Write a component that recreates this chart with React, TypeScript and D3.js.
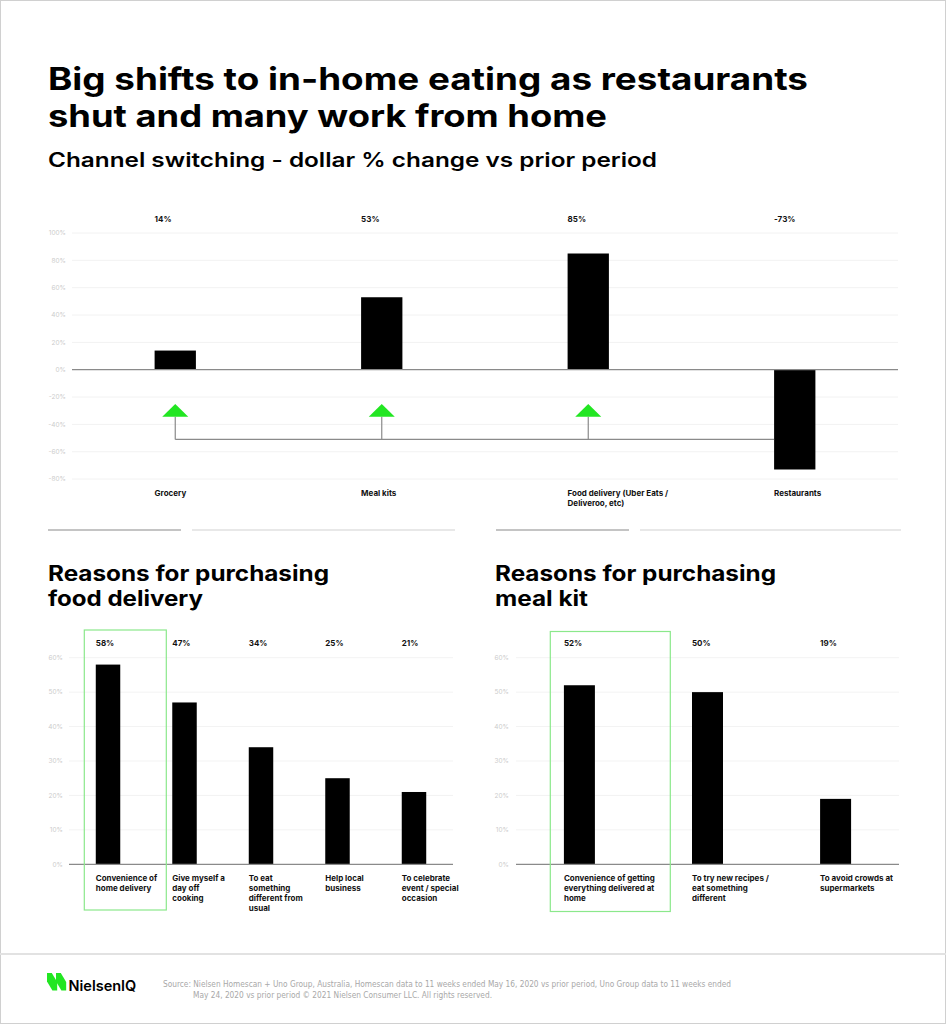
import React, { useEffect } from "react";
import * as d3 from "d3";

// ---------- DATA ----------
const channelLabels: string[][] = [
  ["Grocery"],
  ["Meal kits"],
  ["Food delivery (Uber Eats /", "Deliveroo, etc)"],
  ["Restaurants"],
];
const channelValues: number[] = [14, 53, 85, -73];
const channelTicks: number[] = [100, 80, 60, 40, 20, 0, -20, -40, -60, -80];
// annotation (arrows from restaurants to the growing channels), in axis units
const arrowFrom: number = 3;
const arrowTo: number[] = [0, 1, 2];
const arrowApex = -25;
const arrowBase = -34.5;
const arrowLink = -51;

const deliveryLabels: string[][] = [
  ["Convenience of", "home delivery"],
  ["Give myself a", "day off", "cooking"],
  ["To eat", "something", "different from", "usual"],
  ["Help local", "business"],
  ["To celebrate", "event / special", "occasion"],
];
const deliveryValues: number[] = [58, 47, 34, 25, 21];

const mealKitLabels: string[][] = [
  ["Convenience of getting", "everything delivered at", "home"],
  ["To try new recipes /", "eat something", "different"],
  ["To avoid crowds at", "supermarkets"],
];
const mealKitValues: number[] = [52, 50, 19];
const reasonTicks: number[] = [0, 10, 20, 30, 40, 50, 60];

const titleLines: string[] = [
  "Big shifts to in-home eating as restaurants",
  "shut and many work from home",
];
const subtitle = "Channel switching - dollar % change vs prior period";
const deliveryHeading: string[] = ["Reasons for purchasing", "food delivery"];
const mealKitHeading: string[] = ["Reasons for purchasing", "meal kit"];

const sourceLines: string[] = [
  "Source: Nielsen Homescan + Uno Group, Australia, Homescan data to 11 weeks ended May 16, 2020 vs prior period, Uno Group data to 11 weeks ended",
  "May 24, 2020 vs prior period © 2021 Nielsen Consumer LLC. All rights reserved.",
];

const FONT = "Inter, 'Noto Sans', sans-serif";
const GREEN = "#22e622";
const BOX_GREEN = "#8be88b";

function ReasonChart(props: {
  labels: string[][];
  values: number[];
  x0: number;
  x1: number;
  labelRight: number;
  paddingInner: number;
  paddingOuter: number;
  box: { x: number; y: number; w: number; h: number };
}) {
  const { labels, values, x0, x1, labelRight, paddingInner, paddingOuter, box } = props;
  const y = d3.scaleLinear().domain([0, 60]).range([864.3, 657.7]);
  const x = d3
    .scaleBand<number>()
    .domain(values.map((_, i) => i))
    .range([x0, x1])
    .paddingInner(paddingInner)
    .paddingOuter(paddingOuter);
  return (
    <g>
      {reasonTicks.map((t) => (
        <g key={t}>
          {t !== 0 && (
            <line x1={x0} x2={x1} y1={y(t)} y2={y(t)} stroke="#f3f3f3" strokeWidth={1} />
          )}
          <text
            x={labelRight}
            y={y(t)}
            dy="0.35em"
            textAnchor="end"
            fontSize={6.5}
            fill="#cccccc"
            fontFamily={FONT}
          >
            {t}%
          </text>
        </g>
      ))}
      {values.map((v, i) => (
        <g key={i}>
          <rect
            x={x(i)!}
            y={y(v)}
            width={x.bandwidth()}
            height={y(0) - y(v)}
            fill="#000"
          />
          <text
            x={x(i)!}
            y={642.7}
            dy="0.35em"
            fontSize={8}
            fontWeight={700}
            fill="#111"
            fontFamily={FONT}
          >
            {v}%
          </text>
          {labels[i].map((l, j) => (
            <text
              key={j}
              x={x(i)!}
              y={877.7 + j * 10}
              dy="0.35em"
              fontSize={8}
              fontWeight={700}
              fill="#111"
              fontFamily={FONT}
            >
              {l}
            </text>
          ))}
        </g>
      ))}
      <line x1={x0} x2={x1} y1={y(0)} y2={y(0)} stroke="#8a8a8a" strokeWidth={1.2} />
      <rect
        x={box.x}
        y={box.y}
        width={box.w}
        height={box.h}
        fill="none"
        stroke={BOX_GREEN}
        strokeWidth={1.2}
      />
    </g>
  );
}

export default function App() {
  useEffect(() => {
    document.body.style.margin = "0";
  }, []);

  // top chart scales
  const yTop = d3.scaleLinear().domain([0, 100]).range([369.7, 233]);
  const xTop = d3
    .scaleBand<number>()
    .domain(channelValues.map((_, i) => i))
    .range([72, 898])
    .paddingInner(0.8)
    .paddingOuter(0.4);
  const cx = (i: number) => xTop(i)! + xTop.bandwidth() / 2;

  const logoShape = (x: number) =>
    `M${x},973 L${x + 4.8},973 L${x + 10.2},982 L${x + 10.2},990.5 L${x + 5.4},990.5 L${x},981.5 Z`;

  const stretched = (
    s: string,
    x: number,
    y: number,
    size: number,
    weight: number,
    len: number
  ) => (
    <text
      x={x}
      y={y}
      fontSize={size}
      fontWeight={weight}
      fill="#000"
      fontFamily={FONT}
      textLength={len}
      lengthAdjust="spacingAndGlyphs"
    >
      {s}
    </text>
  );

  return (
    <svg
      width={946}
      height={1024}
      style={{ display: "block", position: "absolute", left: 0, top: 0 }}
    >
      <rect x={0.5} y={0.5} width={945} height={1023} fill="#fff" stroke="#d0d0d0" strokeWidth={1} />

      {/* titles */}
      {stretched(titleLines[0], 48, 90, 31, 700, 760)}
      {stretched(titleLines[1], 48, 127, 31, 700, 559)}
      {stretched(subtitle, 48, 167, 20, 600, 609)}

      {/* top chart */}
      <g>
        {channelTicks.map((t) => (
          <g key={t}>
            {t !== 0 && (
              <line x1={72} x2={898} y1={yTop(t)} y2={yTop(t)} stroke="#f2f2f2" strokeWidth={1} />
            )}
            <text
              x={66}
              y={yTop(t)}
              dy="0.35em"
              textAnchor="end"
              fontSize={6.5}
              fill="#cccccc"
              fontFamily={FONT}
            >
              {t}%
            </text>
          </g>
        ))}
        {channelValues.map((v, i) => (
          <g key={i}>
            <rect
              x={xTop(i)!}
              y={yTop(Math.max(0, v))}
              width={xTop.bandwidth()}
              height={Math.abs(yTop(v) - yTop(0))}
              fill="#000"
            />
            <text
              x={xTop(i)!}
              y={219}
              dy="0.35em"
              fontSize={8}
              fontWeight={700}
              fill="#111"
              fontFamily={FONT}
            >
              {v}%
            </text>
            {channelLabels[i].map((l, j) => (
              <text
                key={j}
                x={xTop(i)!}
                y={493.3 + j * 10}
                dy="0.35em"
                fontSize={8}
                fontWeight={700}
                fill="#111"
                fontFamily={FONT}
              >
                {l}
              </text>
            ))}
          </g>
        ))}
        <line x1={72} x2={898} y1={yTop(0)} y2={yTop(0)} stroke="#8a8a8a" strokeWidth={1.2} />
        {/* connector */}
        <line
          x1={cx(arrowTo[0])}
          x2={xTop(arrowFrom)!}
          y1={yTop(arrowLink)}
          y2={yTop(arrowLink)}
          stroke="#8a8a8a"
          strokeWidth={1.2}
        />
        {arrowTo.map((i) => (
          <g key={i}>
            <line
              x1={cx(i)}
              x2={cx(i)}
              y1={yTop(arrowBase)}
              y2={yTop(arrowLink)}
              stroke="#8a8a8a"
              strokeWidth={1.2}
            />
            <path
              d={`M${cx(i)},${yTop(arrowApex)} L${cx(i) + 13},${yTop(arrowBase)} L${cx(i) - 13},${yTop(arrowBase)} Z`}
              fill={GREEN}
            />
          </g>
        ))}
      </g>

      {/* separators */}
      <line x1={48} x2={181} y1={530} y2={530} stroke="#b0b0b0" strokeWidth={1.5} />
      <line x1={192} x2={455} y1={530} y2={530} stroke="#e0e0e0" strokeWidth={1.5} />
      <line x1={496} x2={629} y1={530} y2={530} stroke="#b0b0b0" strokeWidth={1.5} />
      <line x1={640} x2={901} y1={530} y2={530} stroke="#e0e0e0" strokeWidth={1.5} />

      {/* bottom headings */}
      {stretched(deliveryHeading[0], 48, 581, 21, 700, 281)}
      {stretched(deliveryHeading[1], 48, 606, 21, 700, 155)}
      {stretched(mealKitHeading[0], 495, 581, 21, 700, 281)}
      {stretched(mealKitHeading[1], 495, 606, 21, 700, 93)}

      <ReasonChart
        labels={deliveryLabels}
        values={deliveryValues}
        x0={69}
        x1={453}
        labelRight={63}
        paddingInner={0.68}
        paddingOuter={0.35}
        box={{ x: 84.3, y: 630, w: 82, h: 280 }}
      />
      <ReasonChart
        labels={mealKitLabels}
        values={mealKitValues}
        x0={516}
        x1={899}
        labelRight={509}
        paddingInner={0.758}
        paddingOuter={0.374}
        box={{ x: 550.3, y: 631.5, w: 120, h: 280 }}
      />

      {/* footer */}
      <line x1={0} x2={946} y1={954} y2={954} stroke="#e2e2e2" strokeWidth={2} />
      <path d={logoShape(47)} fill={GREEN} />
      <path d={logoShape(56)} fill={GREEN} />
      <text x={68.5} y={991} fontSize={14.5} fontWeight={600} fill="#000" fontFamily={FONT}>
        NielsenIQ
      </text>
      <text
        x={163}
        y={987}
        fontSize={8}
        fill="#a8a8a8"
        fontFamily="'Liberation Sans Narrow', 'DejaVu Sans Condensed', sans-serif"
        textLength={568}
        lengthAdjust="spacingAndGlyphs"
      >
        {sourceLines[0]}
      </text>
      <text
        x={193}
        y={998}
        fontSize={8}
        fill="#a8a8a8"
        fontFamily="'Liberation Sans Narrow', 'DejaVu Sans Condensed', sans-serif"
        textLength={299}
        lengthAdjust="spacingAndGlyphs"
      >
        {sourceLines[1]}
      </text>
    </svg>
  );
}
